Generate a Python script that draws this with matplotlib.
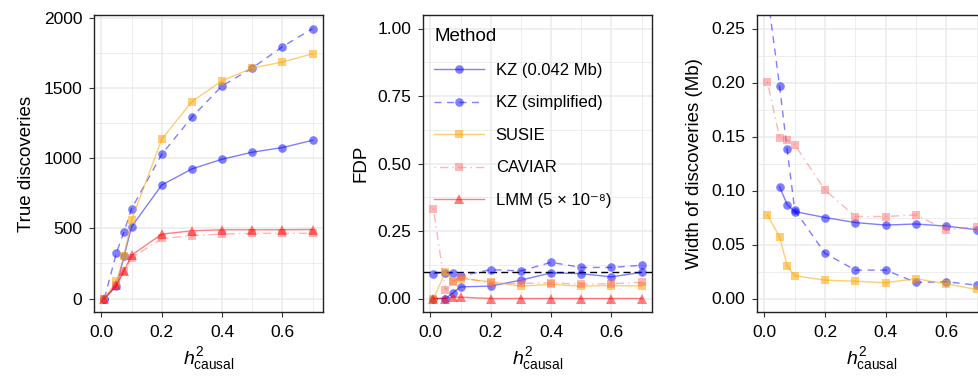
import matplotlib
matplotlib.use("Agg")
import matplotlib.pyplot as plt
import numpy as np

plt.rcParams['font.family'] = ['Liberation Sans', 'DejaVu Sans']
plt.rcParams['mathtext.fontset'] = 'custom'
plt.rcParams['mathtext.rm'] = 'Liberation Sans'
plt.rcParams['mathtext.it'] = 'Liberation Sans:italic'

# heritability values
h2 = [0.01, 0.05, 0.075, 0.1, 0.2, 0.3, 0.4, 0.5, 0.6, 0.7]

# true discoveries
td_kz = [0, 88, 300, 512, 809, 924, 993, 1043, 1076, 1128]
td_kz_simp = [0, 326, 476, 640, 1028, 1293, 1516, 1643, 1795, 1924]
td_susie = [0, 124, 300, 559, 1136, 1404, 1552, 1643, 1686, 1745]
td_caviar = [0, 100, 195, 290, 428, 448, 460, 465, 465, 465]
td_lmm = [0, 95, 197, 309, 459, 483, 490, 490, 490, 492]

# false discovery proportion
fdp_kz = [0, 0, 0.021, 0.043, 0.046, 0.068, 0.095, 0.092, 0.080, 0.097]
fdp_kz_simp = [0.092, 0.096, 0.095, 0.083, 0.107, 0.102, 0.134, 0.115, 0.115, 0.123]
fdp_susie = [0, 0.098, 0.064, 0.074, 0.062, 0.046, 0.052, 0.046, 0.048, 0.046]
fdp_caviar = [0.333, 0.031, 0.060, 0.080, 0.056, 0.056, 0.058, 0.053, 0.055, 0.060]
fdp_lmm = [0, 0, 0.005, 0.005, 0, 0, 0, 0, 0, 0]

# width of discoveries (Mb); KZ (0.042 Mb) has none at 0.01
h2_kz_w = [0.05, 0.075, 0.1, 0.2, 0.3, 0.4, 0.5, 0.6, 0.7]
w_kz = [0.1035, 0.087, 0.0805, 0.075, 0.0703, 0.068, 0.069, 0.067, 0.0638]
w_kz_simp = [0.282, 0.1964, 0.138, 0.082, 0.0418, 0.0263, 0.0263, 0.0149, 0.0155, 0.0124]
w_susie = [0.0774, 0.057, 0.0304, 0.021, 0.017, 0.016, 0.0146, 0.0183, 0.0136, 0.0084]
w_caviar = [0.2004, 0.149, 0.147, 0.1425, 0.1004, 0.0759, 0.0759, 0.0774, 0.0635, 0.0666]

fdp_target = 0.1

styles = {
    'KZ (0.042 Mb)': dict(color='#0000ff', alpha=0.5, ls='-', marker='o', ms=6.2),
    'KZ (simplified)': dict(color='#0000ff', alpha=0.5, ls=(0, (5, 4)), marker='o', ms=6.2),
    'SUSIE': dict(color='#ffa500', alpha=0.55, ls='-', marker='s', ms=6),
    'CAVIAR': dict(color='#ff7070', alpha=0.5, ls=(0, (1, 3, 6, 3)), marker='s', ms=6),
    'LMM (5 × 10⁻⁸)': dict(color='#ff0000', alpha=0.5, ls='-', marker='^', ms=6.8),
}


def style_axis(ax, ylim, yticks, yminor):
    ax.set_xlim(-0.0245, 0.7345)
    ax.set_ylim(*ylim)
    ax.set_xticks([0.0, 0.2, 0.4, 0.6])
    ax.set_xticklabels(['0.0', '0.2', '0.4', '0.6'])
    ax.set_xticks([0.1, 0.3, 0.5, 0.7], minor=True)
    ax.set_yticks(yticks)
    ax.set_yticks(yminor, minor=True)
    ax.grid(True, which='major', color='#ebebeb', lw=1.1)
    ax.grid(True, which='minor', color='#ebebeb', lw=0.6)
    ax.set_axisbelow(True)
    ax.tick_params(which='major', direction='out', length=3.8, width=0.8,
                   color='#333333', labelsize=12.5, labelcolor='black')
    ax.tick_params(axis='x', which='major', pad=5.5)
    ax.tick_params(axis='y', which='major', pad=4.5)
    ax.tick_params(which='minor', length=0)
    for s in ax.spines.values():
        s.set_color('#222222')
        s.set_linewidth(1.0)
    ax.set_xlabel('$h^2_{\\mathrm{causal}}$', fontsize=14, labelpad=4)


def draw(ax, xs, ys, name):
    st = styles[name]
    ax.plot(xs, ys, color=st['color'], alpha=st['alpha'], ls=st['ls'], lw=1.0,
            marker=st['marker'], ms=st['ms'], mew=0, label=name)


fig = plt.figure(figsize=(9.79, 3.78), dpi=100)
bottom = 1 - 312 / 378
height = (312 - 15) / 378
ax1 = fig.add_axes([94 / 979, bottom, 229 / 979, height])
ax2 = fig.add_axes([423 / 979, bottom, 229 / 979, height])
ax3 = fig.add_axes([757 / 979, bottom, 230 / 979, height])

names = list(styles.keys())

# panel 1: true discoveries
for ys, n in zip([td_kz, td_kz_simp, td_susie, td_caviar, td_lmm], names):
    draw(ax1, h2, ys, n)
style_axis(ax1, (-96, 2021), [0, 500, 1000, 1500, 2000], [250, 750, 1250, 1750])
ax1.set_ylabel('True discoveries', fontsize=13.5, labelpad=6)

# panel 2: FDP
ax2.axhline(fdp_target, color='black', ls=(0, (5, 3)), lw=1.0, zorder=1.5)
for ys, n in zip([fdp_kz, fdp_kz_simp, fdp_susie, fdp_caviar, fdp_lmm], names):
    draw(ax2, h2, ys, n)
style_axis(ax2, (-0.05, 1.05), [0, 0.25, 0.5, 0.75, 1.0], [0.125, 0.375, 0.625, 0.875])
ax2.set_yticklabels(['0.00', '0.25', '0.50', '0.75', '1.00'])
ax2.set_ylabel('FDP', fontsize=13.5, labelpad=6)
leg = ax2.legend(title='Method', loc='upper left', bbox_to_anchor=(-0.01, 1.0),
                 frameon=False, fontsize=12, title_fontsize=13.5,
                 handlelength=3.0, handletextpad=0.7, labelspacing=1.05,
                 borderaxespad=0.4)
leg._legend_box.align = 'left'

# panel 3: width
draw(ax3, h2_kz_w, w_kz, names[0])
draw(ax3, h2, w_kz_simp, names[1])
draw(ax3, h2, w_susie, names[2])
draw(ax3, h2, w_caviar, names[3])
style_axis(ax3, (-0.0125, 0.2625), [0, 0.05, 0.1, 0.15, 0.2, 0.25],
           [0.025, 0.075, 0.125, 0.175, 0.225])
ax3.set_yticklabels(['0.00', '0.05', '0.10', '0.15', '0.20', '0.25'])
ax3.set_ylabel('Width of discoveries (Mb)', fontsize=13.5, labelpad=6)

fig.savefig('out.png', dpi=100)
